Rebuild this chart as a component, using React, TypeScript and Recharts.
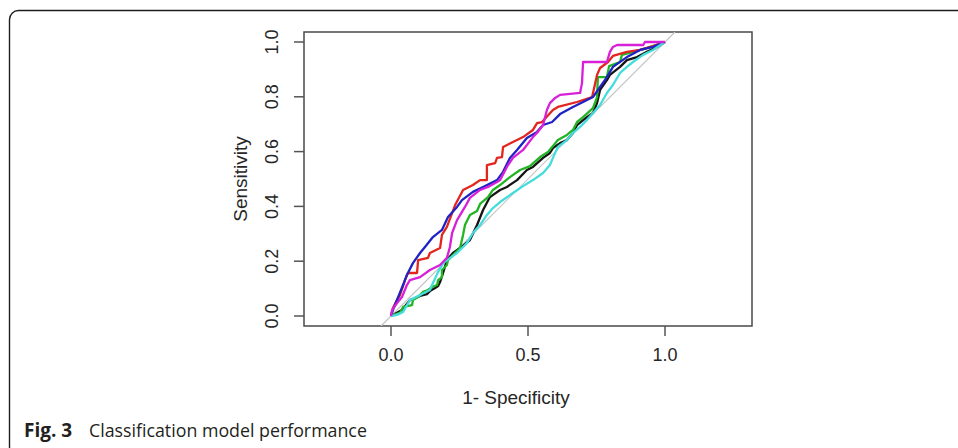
import { LineChart, Line, XAxis, YAxis, ReferenceArea } from 'recharts';

// axis ranges (R style: 4% padding on y, x widened for asp = 1)
const xDomain = [-0.3175, 1.3175];
const yDomain = [-0.0365, 1.0365];
const xTicks = [0, 0.5, 1];
const yTicks = [0, 0.2, 0.4, 0.6, 0.8, 1];

// ROC curves: 1 - specificity / sensitivity
const blackFpr = [0, 0.007, 0.04, 0.069, 0.106, 0.131, 0.142, 0.161, 0.172, 0.179, 0.19, 0.204, 0.226, 0.252, 0.288, 0.314, 0.336, 0.361, 0.398, 0.423, 0.46, 0.496, 0.518, 0.555, 0.58, 0.591, 0.617, 0.642, 0.664, 0.679, 0.715, 0.737, 0.752, 0.763, 0.788, 0.799, 0.836, 0.861, 0.898, 0.934, 0.971, 1];
const blackTpr = [0, 0.004, 0.022, 0.058, 0.073, 0.08, 0.091, 0.102, 0.109, 0.124, 0.157, 0.204, 0.23, 0.248, 0.277, 0.332, 0.387, 0.434, 0.46, 0.471, 0.496, 0.533, 0.544, 0.577, 0.595, 0.613, 0.631, 0.642, 0.668, 0.697, 0.726, 0.741, 0.777, 0.825, 0.861, 0.88, 0.909, 0.934, 0.945, 0.964, 0.982, 1];

const greenFpr = [0, 0.007, 0.033, 0.044, 0.077, 0.08, 0.099, 0.117, 0.135, 0.15, 0.168, 0.172, 0.186, 0.186, 0.204, 0.208, 0.252, 0.263, 0.27, 0.288, 0.314, 0.325, 0.354, 0.372, 0.398, 0.434, 0.471, 0.507, 0.544, 0.573, 0.591, 0.609, 0.642, 0.664, 0.679, 0.701, 0.737, 0.752, 0.755, 0.788, 0.796, 0.836, 0.843, 0.883, 0.934, 1];
const greenTpr = [0, 0.004, 0.011, 0.033, 0.04, 0.058, 0.069, 0.088, 0.095, 0.106, 0.113, 0.131, 0.142, 0.168, 0.186, 0.204, 0.248, 0.296, 0.332, 0.369, 0.383, 0.409, 0.434, 0.46, 0.478, 0.507, 0.533, 0.547, 0.58, 0.599, 0.62, 0.642, 0.661, 0.679, 0.708, 0.726, 0.759, 0.799, 0.872, 0.872, 0.912, 0.927, 0.953, 0.964, 0.978, 1];

const redFpr = [0, 0.007, 0.022, 0.033, 0.051, 0.062, 0.095, 0.099, 0.135, 0.142, 0.179, 0.186, 0.204, 0.234, 0.263, 0.299, 0.325, 0.35, 0.35, 0.38, 0.387, 0.405, 0.409, 0.445, 0.482, 0.518, 0.533, 0.551, 0.591, 0.609, 0.679, 0.734, 0.752, 0.763, 0.792, 0.81, 0.861, 0.909, 0.956, 1];
const redTpr = [0, 0.029, 0.058, 0.077, 0.131, 0.157, 0.157, 0.204, 0.212, 0.23, 0.248, 0.296, 0.325, 0.405, 0.46, 0.478, 0.496, 0.496, 0.551, 0.558, 0.577, 0.58, 0.617, 0.635, 0.653, 0.679, 0.704, 0.708, 0.752, 0.763, 0.781, 0.799, 0.88, 0.905, 0.927, 0.949, 0.964, 0.971, 0.985, 1];

const blueFpr = [0, 0.007, 0.026, 0.044, 0.058, 0.08, 0.106, 0.124, 0.153, 0.186, 0.208, 0.241, 0.259, 0.299, 0.336, 0.387, 0.409, 0.434, 0.46, 0.496, 0.533, 0.555, 0.588, 0.617, 0.664, 0.701, 0.737, 0.763, 0.788, 0.81, 0.861, 0.909, 0.956, 1];
const blueTpr = [0, 0.022, 0.069, 0.113, 0.15, 0.193, 0.23, 0.252, 0.288, 0.314, 0.361, 0.398, 0.423, 0.453, 0.471, 0.496, 0.526, 0.577, 0.606, 0.65, 0.672, 0.697, 0.708, 0.737, 0.763, 0.781, 0.799, 0.836, 0.872, 0.909, 0.945, 0.971, 0.982, 1];

const cyanFpr = [0, 0.022, 0.044, 0.069, 0.106, 0.142, 0.153, 0.172, 0.19, 0.241, 0.277, 0.299, 0.325, 0.35, 0.372, 0.398, 0.445, 0.482, 0.518, 0.555, 0.58, 0.591, 0.609, 0.642, 0.664, 0.69, 0.715, 0.737, 0.763, 0.788, 0.81, 0.836, 0.861, 0.883, 0.92, 0.956, 1];
const cyanTpr = [0, 0.004, 0.015, 0.058, 0.077, 0.095, 0.12, 0.161, 0.193, 0.23, 0.266, 0.303, 0.332, 0.369, 0.394, 0.416, 0.449, 0.474, 0.496, 0.522, 0.551, 0.577, 0.617, 0.642, 0.668, 0.69, 0.715, 0.741, 0.77, 0.814, 0.843, 0.887, 0.909, 0.927, 0.953, 0.971, 1];

const magentaFpr = [0, 0.004, 0.022, 0.04, 0.058, 0.069, 0.106, 0.142, 0.179, 0.204, 0.215, 0.223, 0.241, 0.27, 0.288, 0.325, 0.354, 0.387, 0.398, 0.423, 0.445, 0.482, 0.518, 0.536, 0.555, 0.569, 0.58, 0.599, 0.617, 0.69, 0.697, 0.701, 0.788, 0.799, 0.81, 0.825, 0.92, 0.927, 1];
const magentaTpr = [0, 0.022, 0.047, 0.069, 0.113, 0.131, 0.142, 0.168, 0.186, 0.212, 0.252, 0.303, 0.35, 0.398, 0.431, 0.46, 0.471, 0.489, 0.496, 0.544, 0.577, 0.606, 0.653, 0.672, 0.697, 0.752, 0.777, 0.796, 0.807, 0.814, 0.85, 0.927, 0.927, 0.964, 0.982, 0.989, 0.989, 1, 1];

// chance line, clipped to the plot box
const diagonal = [yDomain[0], yDomain[1]];

const toPoints = (fpr: number[], tpr: number[]) => fpr.map((x, i) => ({ x, y: tpr[i] }));

const curves = [
  { key: 'black', color: '#151515', points: toPoints(blackFpr, blackTpr) },
  { key: 'green', color: '#22b424', points: toPoints(greenFpr, greenTpr) },
  { key: 'red', color: '#e2261f', points: toPoints(redFpr, redTpr) },
  { key: 'blue', color: '#1f22c4', points: toPoints(blueFpr, blueTpr) },
  { key: 'cyan', color: '#45dcdc', points: toPoints(cyanFpr, cyanTpr) },
  { key: 'magenta', color: '#d820d8', points: toPoints(magentaFpr, magentaTpr) },
];

const FONT = '"Liberation Sans", Arial, sans-serif';

function XTick({ x, payload }: any) {
  return (
    <text x={x} y={355} textAnchor="middle" dominantBaseline="central" fontSize={18} fontFamily={FONT} fill="#262626">
      {Number(payload.value).toFixed(1)}
    </text>
  );
}

function YTick({ y, payload }: any) {
  return (
    <text
      x={272}
      y={y}
      transform={`rotate(-90 272 ${y})`}
      textAnchor="middle"
      dominantBaseline="central"
      fontSize={18}
      fontFamily={FONT}
      fill="#262626"
    >
      {Number(payload.value).toFixed(1)}
    </text>
  );
}

export default function App() {
  return (
    <div style={{ position: 'absolute', left: 0, top: 0, width: 958, height: 448, background: '#fff', overflow: 'hidden' }}>
      <LineChart width={958} height={448} margin={{ top: 32, right: 206, bottom: 82, left: 244 }}>
        <XAxis
          dataKey="x"
          type="number"
          domain={xDomain}
          ticks={xTicks}
          allowDataOverflow
          height={40}
          axisLine={false}
          tickSize={10}
          tickLine={{ stroke: '#555', strokeWidth: 1.5 }}
          tick={<XTick />}
        />
        <YAxis
          dataKey="y"
          type="number"
          domain={yDomain}
          ticks={yTicks}
          allowDataOverflow
          width={60}
          axisLine={false}
          tickSize={10}
          tickLine={{ stroke: '#555', strokeWidth: 1.5 }}
          tick={<YTick />}
        />
        <Line
          data={toPoints(diagonal, diagonal)}
          dataKey="y"
          stroke="#c4c4c4"
          strokeWidth={1.2}
          dot={false}
          activeDot={false}
          isAnimationActive={false}
        />
        {curves.map((c) => (
          <Line
            key={c.key}
            data={c.points}
            dataKey="y"
            type="linear"
            stroke={c.color}
            strokeWidth={2.3}
            strokeLinejoin="round"
            dot={false}
            activeDot={false}
            isAnimationActive={false}
          />
        ))}
        <ReferenceArea
          x1={xDomain[0]}
          x2={xDomain[1]}
          y1={yDomain[0]}
          y2={yDomain[1]}
          fill="none"
          fillOpacity={0}
          stroke="#4a4a4a"
          strokeWidth={1.5}
          ifOverflow="visible"
        />
      </LineChart>
      <svg width={958} height={448} style={{ position: 'absolute', left: 0, top: 0, pointerEvents: 'none' }}>
        <rect x={9.5} y={10.5} width={1000} height={445} rx={9} fill="none" stroke="#1e1e1e" strokeWidth={1.4} />
        <text x={240} y={179} transform="rotate(-90 240 179)" textAnchor="middle" dominantBaseline="central" fontSize={19} fontFamily={FONT} fill="#262626">
          Sensitivity
        </text>
        <text x={516} y={397} textAnchor="middle" dominantBaseline="central" fontSize={19} fontFamily={FONT} fill="#262626">
          1- Specificity
        </text>
        <text x={24} y={437} fontSize={19} fontWeight={700} fontFamily='"Open Sans", sans-serif' fill="#231f20">
          Fig. 3
        </text>
        <text x={89} y={437} fontSize={17.8} fontFamily='"Open Sans", sans-serif' fill="#231f20">
          Classification model performance
        </text>
      </svg>
    </div>
  );
}
